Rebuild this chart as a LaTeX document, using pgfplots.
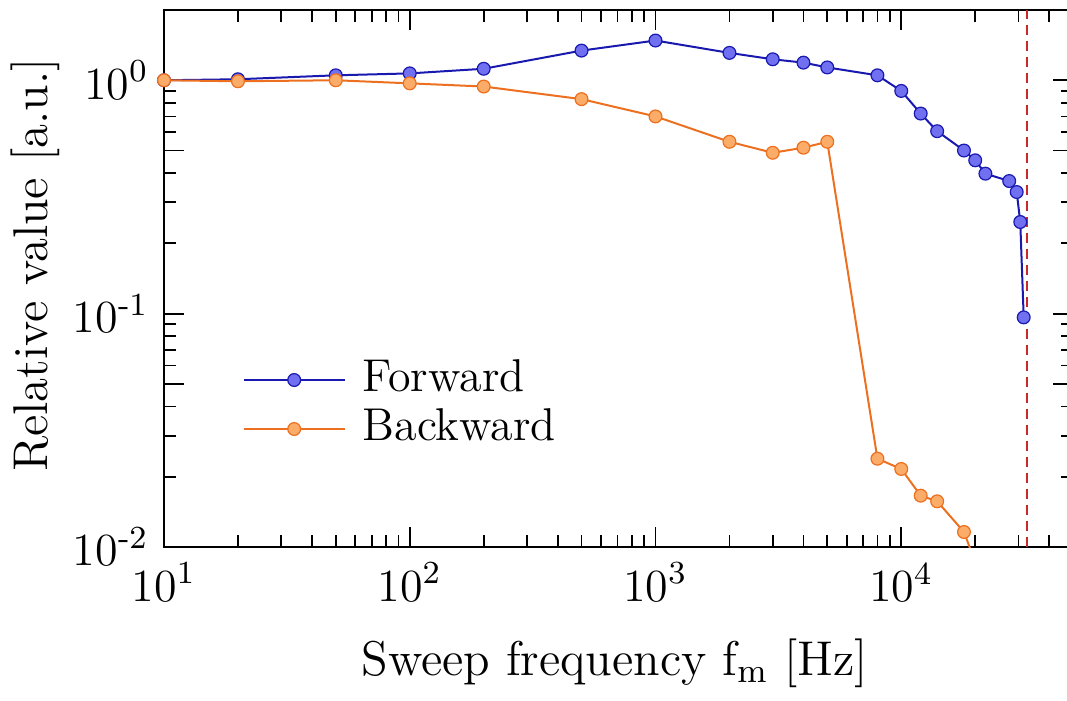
\documentclass[border=0pt]{standalone}
\usepackage{fontspec}
\usepackage{pgfplots}
\pgfplotsset{compat=1.18}
\usetikzlibrary{calc}
\definecolor{fwdline}{RGB}{25,25,175}
\definecolor{fwdfill}{RGB}{112,112,240}
\definecolor{bwdline}{RGB}{236,112,32}
\definecolor{bwdfill}{RGB}{250,172,104}
\definecolor{redline}{RGB}{200,40,40}
\begin{document}
\fontsize{11}{13}\selectfont
\begin{tikzpicture}
\begin{axis}[
  scale only axis, width=227.25pt, height=134.25pt,
  xmode=log, ymode=log, log basis x=10, log basis y=10,
  xmin=10, xmax=5e4, ymin=0.01, ymax=2,
  xticklabel={10\textsuperscript{\pgfmathparse{int(round(\tick))}\pgfmathresult}},
  yticklabel={10\textsuperscript{\pgfmathparse{int(round(\tick))}\pgfmathresult}},
  ticklabel style={font=\fontsize{11.5}{13}\selectfont},
  extra y ticks={0.5,0.05}, extra y tick labels={,},
  extra y tick style={major tick length=5pt},
  tick align=inside, xtick pos=both, ytick pos=both,
  major tick length=5pt, minor tick length=3pt,
  axis line style={line width=0.45pt},
  tick style={line width=0.45pt, black},
  xlabel={Sweep frequency f\textsubscript{m} [Hz]},
  ylabel={Relative value [a.u.]},
  xlabel style={at={(axis description cs:0.496,-0.216)}, anchor=center, font=\fontsize{12.2}{14}\selectfont},
  ylabel style={at={(axis description cs:-0.142,0.525)}, anchor=center, font=\fontsize{12.2}{14}\selectfont},
  legend style={at={(axis description cs:0.0858,0.2654)}, anchor=west, draw=none, fill=none,
    inner sep=0pt, column sep=4.25pt, font=\fontsize{11.5}{13}\selectfont,
    nodes={inner sep=0pt, text height=9pt, text depth=3.25pt}},
  legend cell align=left,
  legend image code/.code={\draw[#1,mark repeat=2,mark phase=2] plot coordinates {(0pt,0pt)(12.6pt,0pt)(25.2pt,0pt)};},
]
\addplot[redline, line width=0.4pt, dash pattern=on 2.5pt off 1.5pt, forget plot] coordinates {(32400,0.01) (32400,2)};
\addplot[fwdline, line width=0.5pt, mark=*, mark size=1.6pt, mark options={solid, fill=fwdfill, draw=fwdline, line width=0.3pt}] coordinates {
(10,1.0) (20,1.01) (50,1.05) (100,1.07) (200,1.12) (500,1.34) (1000,1.48) (2000,1.31) (3000,1.23) (4000,1.19) (5000,1.135) (8000,1.05) (10000,0.90) (12000,0.72) (14000,0.605) (18000,0.50) (20000,0.454) (22000,0.398) (27500,0.370) (29500,0.332) (30500,0.247) (31500,0.0964)
};
\addlegendentry{Forward}
\addplot[bwdline, line width=0.5pt, mark=*, mark size=1.6pt, mark options={solid, fill=bwdfill, draw=bwdline, line width=0.3pt}] coordinates {
(10,1.0) (20,0.99) (50,1.0) (100,0.97) (200,0.94) (500,0.83) (1000,0.70) (2000,0.545) (3000,0.489) (4000,0.514) (5000,0.545) (8000,0.0239) (10000,0.0216) (12000,0.0166) (14000,0.0157) (18000,0.0116)
};
\addlegendentry{Backward}
\addplot[bwdline, line width=0.5pt, forget plot] coordinates {(18000,0.0116) (20000,0.0086)};
\end{axis}
\pgfresetboundingbox
\path[use as bounding box] ($(current axis.south west)+(-41pt,-38.25pt)$) rectangle ($(current axis.south west)+(225.75pt,136.75pt)$);
\end{tikzpicture}
\end{document}
